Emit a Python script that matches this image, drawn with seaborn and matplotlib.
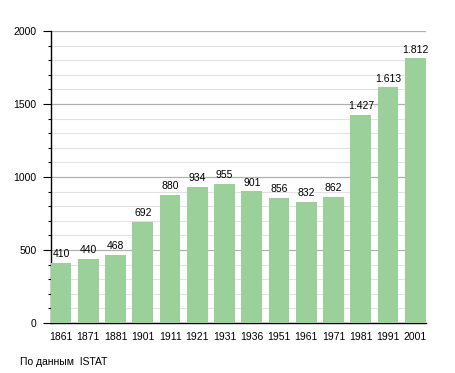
import matplotlib
matplotlib.use("Agg")
import matplotlib.pyplot as plt
import seaborn as sns
import pandas as pd
from matplotlib.ticker import MultipleLocator

anni = ["1861", "1871", "1881", "1901", "1911", "1921", "1931", "1936",
        "1951", "1961", "1971", "1981", "1991", "2001"]
abitanti = [410, 440, 468, 692, 880, 934, 955, 901, 856, 832, 862, 1427, 1613, 1812]

df = pd.DataFrame({"anno": anni, "abitanti": abitanti})

sns.set_style("white")
plt.rcParams["font.family"] = ["Liberation Sans", "DejaVu Sans"]
plt.rcParams["text.color"] = "black"
plt.rcParams["xtick.color"] = "black"
plt.rcParams["ytick.color"] = "black"

fig = plt.figure(figsize=(4.55, 3.73), dpi=100)
ax = fig.add_axes([0.111, 0.134, 0.825, 0.783])

sns.barplot(data=df, x="anno", y="abitanti", color="#9bd09b", saturation=1,
            width=0.76, linewidth=0, ax=ax, zorder=3)

ax.set_ylim(0, 2000)
ax.set_xlim(-0.39, len(anni) - 0.61)
ax.yaxis.set_major_locator(MultipleLocator(500))
ax.yaxis.set_minor_locator(MultipleLocator(100))
ax.grid(axis="y", which="major", color="#b0b0b0", linewidth=0.9, zorder=0)
ax.grid(axis="y", which="minor", color="#e2e2e2", linewidth=0.8, zorder=0)
ax.set_axisbelow(True)

for s in ["top", "right"]:
    ax.spines[s].set_visible(False)
ax.spines["left"].set_color("black")
ax.spines["bottom"].set_color("black")
ax.spines["left"].set_linewidth(1)
ax.spines["bottom"].set_linewidth(1)

ax.tick_params(axis="y", which="major", left=True, length=6, width=0.8, labelsize=7.5, pad=4)
ax.tick_params(axis="y", which="minor", left=True, length=2.5, width=0.8)
ax.tick_params(axis="x", bottom=False, labelsize=7.5, pad=3)
ax.set_xlabel("")
ax.set_ylabel("")

for i, v in enumerate(abitanti):
    lab = f"{v:,}".replace(",", ".")
    ax.text(i, v + 25, lab, ha="center", va="bottom", fontsize=7.5, zorder=4)

fig.text(20 / 455, 1 - 362 / 373, "По данным  ISTAT", fontsize=7.5, va="center", ha="left")

fig.savefig("out.png", dpi=100, facecolor="white")
